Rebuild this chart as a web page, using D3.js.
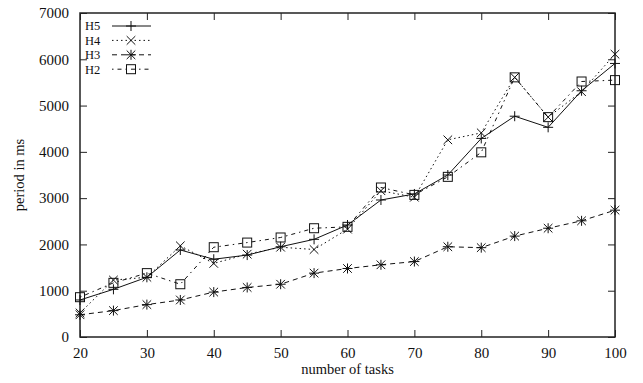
<!DOCTYPE html>
<html>
  <head>
    <meta charset="utf-8" />
    <style>
      body { margin: 0; background: #fff; }
      svg { font-family: "Liberation Serif", "DejaVu Serif", serif; }
      .tick text { font-family: "Liberation Serif", serif; font-size: 15px; fill: #111; }
      .axis-label { font-size: 14.5px; fill: #111; }
      .legend text { font-size: 12.5px; fill: #111; }
    </style>
  </head>
  <body>
    <svg width="643" height="383"></svg>
    <script src="https://d3js.org/d3.v7.min.js"></script>
    <script>
      // x values (number of tasks)
      let tasks = [20, 25, 30, 35, 40, 45, 50, 55, 60, 65, 70, 75, 80, 85, 90, 95, 100];

      // period in ms
      let h5 = [800, 1030, 1290, 1880, 1680, 1770, 1950, 2110, 2420, 2960, 3090, 3500, 4290, 4770, 4530, 5320, 5910];
      let h4 = [520, 1230, 1290, 1970, 1590, 1790, 1940, 1890, 2330, 3160, 3020, 4260, 4410, 5610, 4750, 5300, 6110];
      let h3 = [480, 570, 700, 800, 970, 1070, 1140, 1380, 1480, 1560, 1630, 1950, 1930, 2180, 2350, 2510, 2740];
      let h2 = [860, 1170, 1380, 1140, 1940, 2040, 2150, 2350, 2380, 3230, 3070, 3460, 3990, 5610, 4750, 5520, 5550];

      let xTicks = [20, 30, 40, 50, 60, 70, 80, 90, 100];
      let yTicks = [0, 1000, 2000, 3000, 4000, 5000, 6000, 7000];

      let svg = d3.select("svg");
      let margin = { top: 13, right: 28, bottom: 46, left: 80 };
      let width = 643, height = 383;

      let x = d3.scaleLinear().domain([20, 100]).range([margin.left, width - margin.right]);
      let y = d3.scaleLinear().domain([0, 7000]).range([height - margin.bottom, margin.top]);

      let series = [
        { name: "H5", values: h5, dash: null, marker: "plus" },
        { name: "H4", values: h4, dash: "1.5,3", marker: "cross" },
        { name: "H3", values: h3, dash: "5,4", marker: "star" },
        { name: "H2", values: h2, dash: "1.5,4,4,4", marker: "square" },
      ];

      // axes with inside ticks, mirrored on top/right
      let tickLen = 7;
      svg.append("g").attr("class", "x axis")
        .attr("transform", `translate(0, ${y(0)})`)
        .call(d3.axisBottom(x).tickValues(xTicks).tickSizeInner(-tickLen).tickSizeOuter(0).tickPadding(10).tickFormat(d3.format("d")));
      svg.append("g")
        .attr("transform", `translate(0, ${y(7000)})`)
        .call(d3.axisTop(x).tickValues(xTicks).tickSizeInner(-tickLen).tickSizeOuter(0).tickFormat(""));
      svg.append("g").attr("class", "y axis")
        .attr("transform", `translate(${x(20)}, 0)`)
        .call(d3.axisLeft(y).tickValues(yTicks).tickSizeInner(-tickLen).tickSizeOuter(0).tickPadding(11).tickFormat(d3.format("d")));
      svg.append("g")
        .attr("transform", `translate(${x(100)}, 0)`)
        .call(d3.axisRight(y).tickValues(yTicks).tickSizeInner(-tickLen).tickSizeOuter(0).tickFormat(""));

      svg.selectAll(".domain").remove();
      svg.selectAll(".tick line").attr("stroke", "#222").attr("stroke-width", 1);

      // frame
      svg.append("rect")
        .attr("x", x(20)).attr("y", y(7000))
        .attr("width", x(100) - x(20)).attr("height", y(0) - y(7000))
        .attr("fill", "none").attr("stroke", "#222").attr("stroke-width", 1.5);

      // axis labels
      svg.append("text").attr("class", "axis-label")
        .attr("x", (x(20) + x(100)) / 2).attr("y", 374)
        .attr("text-anchor", "middle").text("number of tasks");
      svg.append("text").attr("class", "axis-label")
        .attr("transform", `translate(24, ${(y(0) + y(7000)) / 2}) rotate(-90)`)
        .attr("text-anchor", "middle").text("period in ms");

      function drawMarker(g, type, cx, cy) {
        let s = 5;
        if (type == "plus" || type == "star") {
          g.append("path").attr("d", `M${cx - s},${cy}H${cx + s}M${cx},${cy - s}V${cy + s}`)
            .attr("stroke", "#111").attr("fill", "none");
        }
        if (type == "cross" || type == "star") {
          let c = 4.3;
          g.append("path").attr("d", `M${cx - c},${cy - c}L${cx + c},${cy + c}M${cx - c},${cy + c}L${cx + c},${cy - c}`)
            .attr("stroke", "#111").attr("fill", "none");
        }
        if (type == "square") {
          g.append("rect").attr("x", cx - 4.5).attr("y", cy - 4.5)
            .attr("width", 9).attr("height", 9)
            .attr("stroke", "#111").attr("fill", "none");
        }
      }

      let line = d3.line()
        .x((d, i) => x(tasks[i]))
        .y((d) => y(d));

      let graph = svg.append("g").attr("class", "graph");
      for (let s of series) {
        graph.append("path")
          .attr("d", line(s.values))
          .attr("fill", "none")
          .attr("stroke", "#111")
          .attr("stroke-width", 1)
          .attr("stroke-dasharray", s.dash);
        let mg = graph.append("g");
        s.values.forEach((v, i) => drawMarker(mg, s.marker, x(tasks[i]), y(v)));
      }

      // legend
      let legend = svg.append("g").attr("class", "legend");
      series.forEach((s, i) => {
        let ly = 26 + i * 14.4;
        legend.append("text")
          .attr("x", 85).attr("y", ly).attr("dy", "0.35em")
          .text(s.name);
        legend.append("line")
          .attr("x1", 112).attr("x2", 151)
          .attr("y1", ly).attr("y2", ly)
          .attr("stroke", "#111")
          .attr("stroke-dasharray", s.dash);
        drawMarker(legend, s.marker, 131, ly);
      });
    </script>
  </body>
</html>
